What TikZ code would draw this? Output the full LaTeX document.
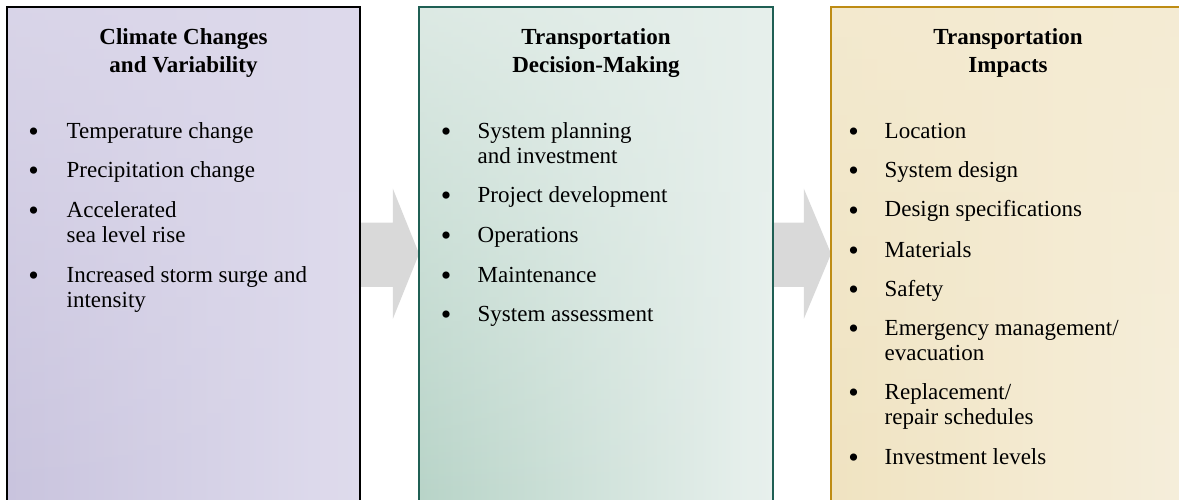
\documentclass[tikz,border=0pt]{standalone}
\usepackage{fontspec}
\setmainfont{Liberation Serif}
\usetikzlibrary{fadings,calc}
\tikzfading[name=topfade, top color=transparent!20, bottom color=transparent!100]
\definecolor{lavL}{HTML}{C9C4DE}
\definecolor{lavR}{HTML}{DFDCED}
\definecolor{lavT}{HTML}{DDD9EB}
\definecolor{grnL}{HTML}{B8D4C8}
\definecolor{grnR}{HTML}{E9F1EE}
\definecolor{grnT}{HTML}{E6EFEB}
\definecolor{grnB}{HTML}{1F5F54}
\definecolor{ylwL}{HTML}{F0E3C1}
\definecolor{ylwR}{HTML}{F6EFDC}
\definecolor{ylwT}{HTML}{F4EBD2}
\definecolor{ylwB}{HTML}{BE8C14}
\definecolor{arrG}{HTML}{D9D9D9}
\tikzset{
  panel/.style={rectangle, inner sep=0pt, line width=1.8pt, minimum height=491.5pt},
  ttl/.style={anchor=base, inner sep=0pt, font=\fontsize{23}{25}\selectfont\bfseries},
  itm/.style={anchor=base west, inner sep=0pt},
  bul/.style={anchor=base, inner sep=0pt, font=\fontsize{30}{30}\selectfont, yshift=-3pt},
  arrowfill/.style={fill=arrG},
  frame/.style={line width=1.8pt},
}
\begin{document}
\begin{tikzpicture}[x=1pt,y=-1pt,font=\fontsize{23}{25}\selectfont]
\useasboundingbox (0,0) rectangle (1179,500);
% panels
\node[panel, minimum width=351pt, left color=lavL, right color=lavR] (boxL) at (183.5,253.75) {};
\node[panel, minimum width=352pt, left color=grnL, right color=grnR] (boxM) at (596,253.75) {};
\node[panel, minimum width=352pt, left color=ylwL, right color=ylwR] (boxR) at (1008,253.75) {};
\fill[lavT, path fading=topfade] (boxL.north west) rectangle (boxL.south east);
\fill[grnT, path fading=topfade] (boxM.north west) rectangle (boxM.south east);
\fill[ylwT, path fading=topfade] (boxR.north west) rectangle (boxR.south east);
% arrows
\fill[arrowfill] ($(boxL.east)+(-1,-31)$) -- ($(boxL.east)+(33,-31)$) -- ($(boxL.east)+(33,-65)$)
  -- (boxM.west) -- ($(boxL.east)+(33,65)$) -- ($(boxL.east)+(33,33)$) -- ($(boxL.east)+(-1,33)$) -- cycle;
\fill[arrowfill] ($(boxM.east)+(-1,-31)$) -- ($(boxM.east)+(31,-31)$) -- ($(boxM.east)+(31,-65)$)
  -- (boxR.west) -- ($(boxM.east)+(31,65)$) -- ($(boxM.east)+(31,33)$) -- ($(boxM.east)+(-1,33)$) -- cycle;
% borders
\draw[frame, black] (boxL.north west) rectangle (boxL.south east);
\draw[frame, grnB] (boxM.north west) rectangle (boxM.south east);
\draw[frame, ylwB] (boxR.north west) rectangle (boxR.south east);
% left texts
\node[ttl] (tL1) at (183.5,45) {Climate Changes};
\node[ttl] (tL2) at (183.5,72.5) {and Variability};
\node[bul] (bL1) at (33.7,139) {•};
\node[itm] (iL1) at (66.5,139) {Temperature change};
\node[bul] (bL2) at (33.7,178) {•};
\node[itm] (iL2) at (66.5,178) {Precipitation change};
\node[bul] (bL3) at (33.7,218) {•};
\node[itm] (iL3a) at (66.5,218) {Accelerated};
\node[itm] (iL3b) at (66.5,243) {sea level rise};
\node[bul] (bL4) at (33.7,282) {•};
\node[itm] (iL4a) at (66.5,282) {Increased storm surge and};
\node[itm] (iL4b) at (66.5,307) {intensity};
% middle texts
\node[ttl] (tM1) at (596,45) {Transportation};
\node[ttl] (tM2) at (596,72.5) {Decision-Making};
\node[bul] (bM1) at (446,139) {•};
\node[itm] (iM1a) at (477.5,139) {System planning};
\node[itm] (iM1b) at (477.5,164) {and investment};
\node[bul] (bM2) at (446,203) {•};
\node[itm] (iM2) at (477.5,203) {Project development};
\node[bul] (bM3) at (446,242) {•};
\node[itm] (iM3) at (477.5,242) {Operations};
\node[bul] (bM4) at (446,282) {•};
\node[itm] (iM4) at (477.5,282) {Maintenance};
\node[bul] (bM5) at (446,321) {•};
\node[itm] (iM5) at (477.5,321) {System assessment};
% right texts
\node[ttl] (tR1) at (1008,45) {Transportation};
\node[ttl] (tR2) at (1008,72.5) {Impacts};
\node[bul] (bR1) at (853.5,139) {•};
\node[itm] (iR1) at (884.5,139) {Location};
\node[bul] (bR2) at (853.5,178) {•};
\node[itm] (iR2) at (884.5,178) {System design};
\node[bul] (bR3) at (853.5,217) {•};
\node[itm] (iR3) at (884.5,217) {Design specifications};
\node[bul] (bR4) at (853.5,257) {•};
\node[itm] (iR4) at (884.5,257) {Materials};
\node[bul] (bR5) at (853.5,296) {•};
\node[itm] (iR5) at (884.5,296) {Safety};
\node[bul] (bR6) at (853.5,335) {•};
\node[itm] (iR6a) at (884.5,335) {Emergency management/};
\node[itm] (iR6b) at (884.5,360) {evacuation};
\node[bul] (bR7) at (853.5,399) {•};
\node[itm] (iR7a) at (884.5,399) {Replacement/};
\node[itm] (iR7b) at (884.5,424) {repair schedules};
\node[bul] (bR8) at (853.5,464) {•};
\node[itm] (iR8) at (884.5,464) {Investment levels};
\end{tikzpicture}
\end{document}
